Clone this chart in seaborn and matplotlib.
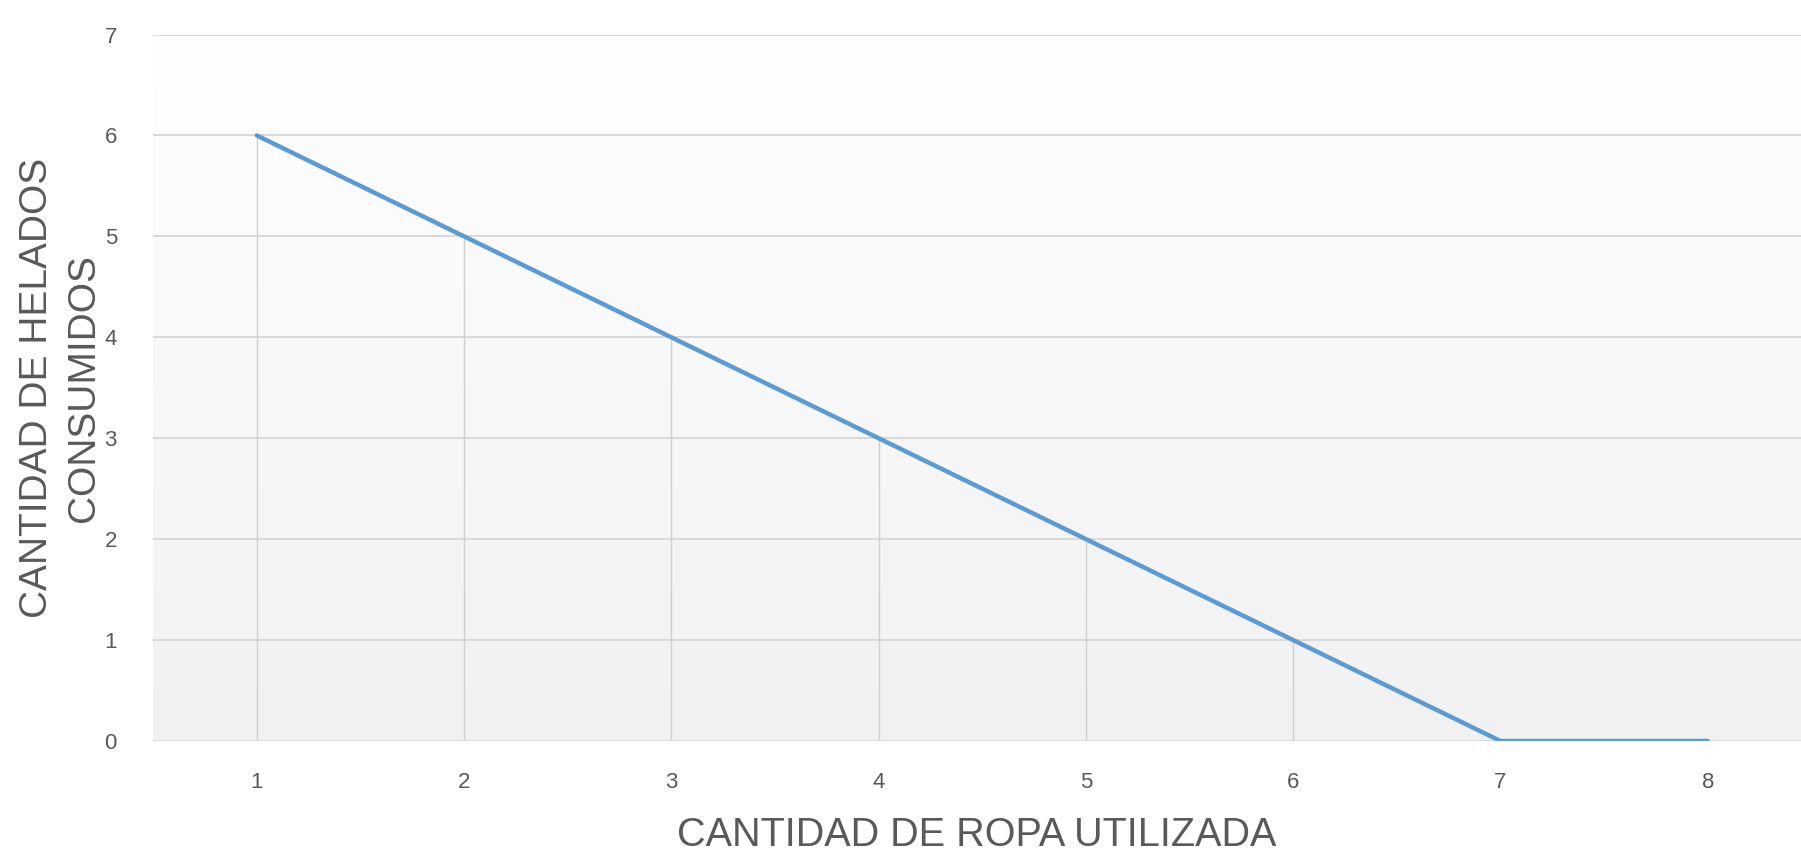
import numpy as np
import pandas as pd
import seaborn as sns
import matplotlib.pyplot as plt
from matplotlib.colors import LinearSegmentedColormap

# data
ropa = [1, 2, 3, 4, 5, 6, 7, 8]
helados = [6, 5, 4, 3, 2, 1, 0, 0]
y_ticks = [0, 1, 2, 3, 4, 5, 6, 7]

df = pd.DataFrame({'ropa': ropa, 'helados': helados})

sns.set_theme(style="white")
plt.rcParams['font.family'] = ['Liberation Sans', 'DejaVu Sans']

fig = plt.figure(figsize=(18.01, 8.52), dpi=100)
ax = fig.add_axes([0.085, 0.1303, 0.915, 0.8292])

# soft white-to-grey gradient like the Excel plot area
grad = np.linspace(1.0, 0.0, 256).reshape(-1, 1)
bg = LinearSegmentedColormap.from_list('bg', ['#f1f1f1', '#ffffff'])
ax.imshow(grad, extent=[0, 1, 0, 1], transform=ax.transAxes, aspect='auto',
          cmap=bg, vmin=0, vmax=1, zorder=0)

# horizontal gridlines
for y in y_ticks:
    ax.axhline(y, color='#d9d9d9', lw=1.4, zorder=1)

# drop lines from each point
ax.vlines(df['ropa'], 0, df['helados'], color='#cfcfcf', lw=1.0, zorder=1)

sns.lineplot(data=df, x='ropa', y='helados', ax=ax, color='#5b9bd5', lw=3.2, zorder=3)

ax.set_xlim(0.5, 8.45)
ax.set_ylim(0, 7)
ax.set_xticks(ropa)
ax.set_yticks(y_ticks)
ax.tick_params(axis='x', length=0, pad=22, labelsize=16, labelcolor='#595959')
ax.tick_params(axis='y', length=0, pad=26, labelsize=16, labelcolor='#595959')
for s in ax.spines.values():
    s.set_visible(False)
ax.grid(False)

ax.set_xlabel('CANTIDAD DE ROPA UTILIZADA', fontsize=28.5, color='#595959')
ax.set_ylabel('CANTIDAD DE HELADOS\nCONSUMIDOS', fontsize=28, color='#595959',
              linespacing=1.4)
ax.xaxis.set_label_coords(0.5, -0.106)
ax.yaxis.set_label_coords(-0.031, 0.5)

fig.savefig('out.png', dpi=100)
